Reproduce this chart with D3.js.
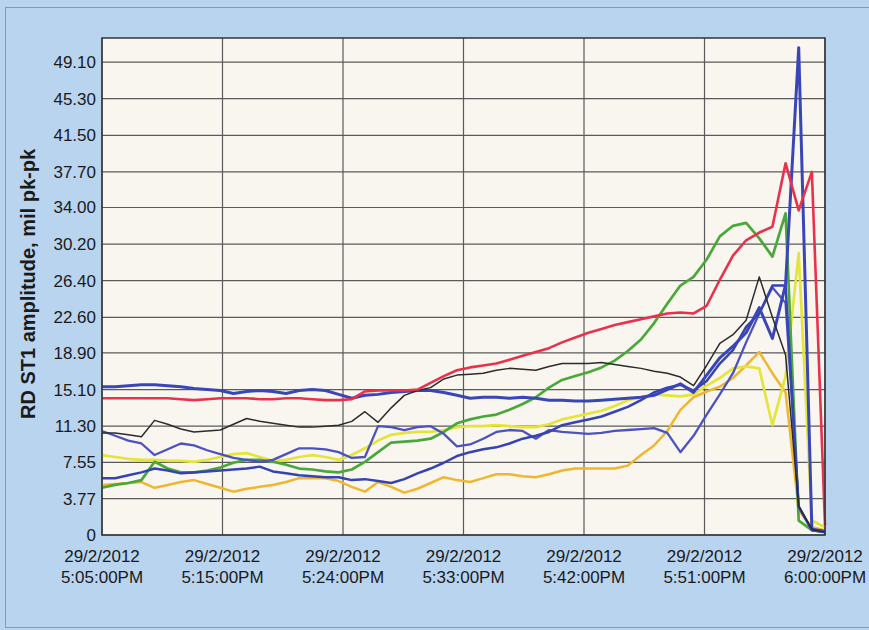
<!DOCTYPE html>
<html>
<head>
<meta charset="utf-8">
<script src="https://cdn.jsdelivr.net/npm/d3@7"></script>
<style>
  html, body { margin: 0; padding: 0; background: #b9d4ef; }
  svg { display: block; }
  text { font-family: "Liberation Sans", Arial, sans-serif; fill: #1a1a1a; }
</style>
</head>
<body>
<svg id="chart" width="869" height="630"></svg>
<script>
// ---- data (one sample per minute, 5:05 PM to 6:00 PM) ----
const xTickLabels = [
  ["29/2/2012", "5:05:00PM"],
  ["29/2/2012", "5:15:00PM"],
  ["29/2/2012", "5:24:00PM"],
  ["29/2/2012", "5:33:00PM"],
  ["29/2/2012", "5:42:00PM"],
  ["29/2/2012", "5:51:00PM"],
  ["29/2/2012", "6:00:00PM"]
];
const yTicks = [0, 3.77, 7.55, 11.30, 15.10, 18.90, 22.60, 26.40, 30.20, 34.00, 37.70, 41.50, 45.30, 49.10];
const yTickLabels = ["0", "3.77", "7.55", "11.30", "15.10", "18.90", "22.60", "26.40", "30.20", "34.00", "37.70", "41.50", "45.30", "49.10"];
const yTitle = "RD ST1 amplitude, mil pk-pk";

const gold = [5.2,5.3,5.4,5.5,4.9,5.2,5.5,5.7,5.3,4.9,4.5,4.8,5.0,5.2,5.5,5.9,5.9,5.9,5.6,5.0,
  4.5,5.5,5.0,4.4,4.8,5.4,6.0,5.7,5.5,5.9,6.3,6.3,6.1,6.0,6.3,6.7,6.9,6.9,6.9,6.9,
  7.2,8.3,9.3,10.8,13.0,14.3,14.9,15.4,16.3,17.6,19.0,16.8,14.8,2.6,0.8,0.5];
const lemon = [8.3,8.1,7.9,7.8,7.8,7.7,7.7,7.6,7.8,8.1,8.4,8.5,8.1,7.7,7.8,8.1,8.3,8.1,7.8,8.3,
  9.0,9.8,10.4,10.6,10.7,10.7,10.9,11.2,11.3,11.3,11.4,11.3,11.2,11.2,11.5,12.0,12.3,12.6,12.9,13.4,
  14.0,14.3,14.6,14.5,14.4,14.6,15.5,16.3,17.3,17.5,17.3,11.4,16.5,29.3,1.5,0.8];
const green = [4.9,5.2,5.4,5.7,7.6,6.9,6.5,6.5,6.7,7.0,7.5,7.8,7.8,7.6,7.3,6.9,6.8,6.6,6.5,6.8,
  7.6,8.6,9.6,9.7,9.8,10.0,10.7,11.6,12.0,12.3,12.5,13.0,13.6,14.3,15.3,16.1,16.5,16.9,17.4,18.1,
  19.1,20.3,22.0,24.0,25.9,26.8,28.6,31.0,32.1,32.4,30.8,28.9,33.4,1.5,0.5,0.3];
const blueD = [10.8,10.3,9.8,9.5,8.3,8.9,9.5,9.3,8.8,8.4,8.0,7.8,7.6,7.8,8.4,9.0,9.0,8.9,8.6,8.0,
  8.1,11.3,11.2,10.9,11.2,11.3,10.5,9.2,9.4,10.0,10.7,10.9,10.8,10.0,10.9,10.7,10.6,10.5,10.6,10.8,
  10.9,11.0,11.1,10.6,8.6,10.3,12.5,14.6,16.8,20.0,23.0,25.7,24.1,3.0,0.5,0.3];
const blueF = [5.9,5.9,6.2,6.5,6.9,6.7,6.4,6.5,6.6,6.7,6.8,6.9,7.1,6.6,6.4,6.2,6.1,6.0,6.0,5.7,
  5.8,5.6,5.4,5.8,6.4,6.9,7.5,8.2,8.6,8.9,9.1,9.5,10.0,10.3,10.7,11.4,11.7,12.0,12.3,12.8,
  13.3,14.0,14.8,15.3,15.6,15.0,16.0,17.8,19.2,21.6,23.0,25.9,25.9,2.9,0.5,0.3];
const blueB = [15.4,15.4,15.5,15.6,15.6,15.5,15.4,15.2,15.1,15.0,14.7,14.9,15.0,14.9,14.7,15.0,15.1,15.0,14.6,14.2,
  14.5,14.6,14.8,14.9,15.0,15.0,14.8,14.5,14.2,14.3,14.3,14.2,14.3,14.2,14.0,14.0,13.9,13.9,14.0,14.1,
  14.2,14.3,14.5,15.1,15.7,14.8,16.6,18.4,19.6,21.0,23.6,20.4,26.0,50.6,0.6,0.4];
const black = [10.6,10.6,10.4,10.2,11.9,11.5,11.0,10.7,10.8,10.9,11.5,12.1,11.8,11.6,11.4,11.2,11.2,11.3,11.4,11.8,
  12.8,11.7,13.2,14.5,15.0,15.3,16.2,16.6,16.7,16.8,17.1,17.3,17.2,17.1,17.5,17.8,17.8,17.8,17.9,17.7,
  17.5,17.3,17.0,16.8,16.4,15.5,17.6,19.9,20.8,22.3,26.8,22.6,18.7,3.0,0.6,0.3];
const red = [14.2,14.2,14.2,14.2,14.2,14.2,14.1,14.0,14.1,14.2,14.2,14.2,14.1,14.1,14.2,14.2,14.1,14.0,14.0,14.1,
  14.9,15.0,15.0,15.0,15.1,15.8,16.5,17.1,17.4,17.6,17.8,18.2,18.6,19.0,19.4,20.0,20.5,21.0,21.4,21.8,
  22.1,22.4,22.7,23.0,23.1,23.0,23.8,26.5,29.0,30.6,31.4,32.0,38.6,33.7,37.7,1.0];

const seriesNames = ["gold", "lemon", "green", "blueD", "blueF", "blueB", "black", "red"];
const seriesValues = [gold, lemon, green, blueD, blueF, blueB, black, red];
const seriesColors = ["#f0b62e", "#e4e43a", "#4aa83a", "#4d52c2", "#3543b3", "#3a46b8", "#2b2b2b", "#e8324c"];
const seriesWidths = [2.5, 2.7, 2.7, 2.3, 2.5, 3.0, 1.5, 2.6];

// ---- layout ----
const svg = d3.select("#chart");
const W = 869, H = 630;
const margin = { left: 102, top: 38, right: 44, bottom: 95 };
const pw = W - margin.left - margin.right;
const ph = H - margin.top - margin.bottom;

svg.append("rect").attr("x", 0).attr("y", 0).attr("width", W).attr("height", H).attr("fill", "#b9d4ef");
svg.append("rect").attr("x", 5.5).attr("y", 7.5).attr("width", W).attr("height", 620)
  .attr("fill", "none").attr("stroke", "#8a98a8").attr("stroke-width", 1);

const g = svg.append("g").attr("transform", `translate(${margin.left},${margin.top})`);

const nPts = red.length;
const x = d3.scaleLinear().domain([0, nPts - 1]).range([0, pw]);
const xTick = d3.scalePoint().domain(d3.range(xTickLabels.length)).range([0, pw]);
const y = d3.scaleLinear().domain([0, 51.6]).range([ph, 0]);

g.append("rect").attr("width", pw).attr("height", ph).attr("fill", "#f8f6ef");

// horizontal gridlines
g.append("g").selectAll("line").data(yTicks).join("line")
  .attr("x1", 0).attr("x2", pw)
  .attr("y1", d => y(d)).attr("y2", d => y(d))
  .attr("stroke", "#5a5a5a").attr("stroke-width", 1.2);
// vertical gridlines
g.append("g").selectAll("line").data(d3.range(xTickLabels.length)).join("line")
  .attr("x1", d => xTick(d)).attr("x2", d => xTick(d))
  .attr("y1", 0).attr("y2", ph)
  .attr("stroke", "#5a5a5a").attr("stroke-width", 1.2);

// y axis labels
const yAxis = d3.axisLeft(y).tickValues(yTicks).tickFormat((d, i) => yTickLabels[i]).tickSize(0).tickPadding(6);
const ya = g.append("g").call(yAxis);
ya.select(".domain").remove();
ya.selectAll("text").attr("font-size", 17).attr("fill", "#1a1a1a")
  .style("font-family", '"Liberation Sans", Arial, sans-serif');

// x axis labels
const xl = g.append("g").attr("transform", `translate(0,${ph})`);
xTickLabels.forEach((lab, i) => {
  const t = xl.append("text").attr("x", xTick(i)).attr("text-anchor", "middle").attr("font-size", 17);
  t.append("tspan").attr("x", xTick(i)).attr("y", 27).text(lab[0]);
  t.append("tspan").attr("x", xTick(i)).attr("y", 48).text(lab[1]);
});

// lines
const line = d3.line().x((d, i) => x(i)).y(d => y(d));
seriesValues.forEach((vals, k) => {
  g.append("path").datum(vals)
    .attr("fill", "none")
    .attr("stroke", seriesColors[k])
    .attr("stroke-width", seriesWidths[k])
    .attr("stroke-linejoin", "round")
    .attr("d", line);
});

// plot border
g.append("rect").attr("width", pw).attr("height", ph)
  .attr("fill", "none").attr("stroke", "#333").attr("stroke-width", 1.5);

// y title
svg.append("text")
  .attr("transform", `translate(35,${284}) rotate(-90)`)
  .attr("text-anchor", "middle")
  .attr("font-size", 20).attr("font-weight", "bold")
  .text(yTitle);
</script>
</body>
</html>
